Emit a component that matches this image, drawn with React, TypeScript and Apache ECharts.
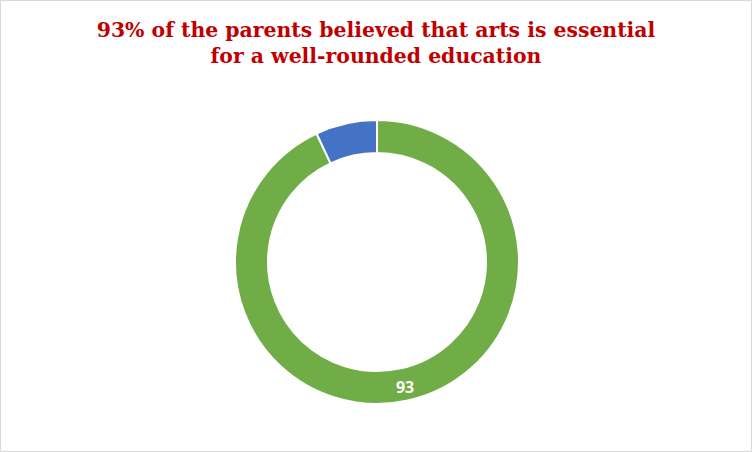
import React, { useEffect, useRef } from "react";
import * as echarts from "echarts";

const categories = ["Essential", "Not essential"];
const values = [93, 7];
const colors = ["#70AD47", "#4472C4"];
const titleText = "93% of the parents believed that arts is essential\nfor a well-rounded education";

const App: React.FC = () => {
  const chartRef = useRef<HTMLDivElement>(null);

  useEffect(() => {
    if (!chartRef.current) return;
    const chart = echarts.init(chartRef.current, null, { renderer: "svg" });

    chart.setOption({
      animation: false,
      backgroundColor: "#ffffff",
      title: {
        text: titleText,
        left: "center",
        top: 11,
        textStyle: {
          fontFamily: "DejaVu Serif",
          fontSize: 20.4,
          fontWeight: "bold",
          color: "#C00000",
          lineHeight: 26,
        },
      },
      series: [
        {
          type: "pie",
          center: [376, 261],
          radius: [109, 142],
          startAngle: 90,
          clockwise: true,
          labelLine: { show: false },
          itemStyle: { borderColor: "#ffffff", borderWidth: 2 },
          data: categories.map((name, i) => ({
            name,
            value: values[i],
            itemStyle: { color: colors[i] },
            label: {
              show: i === 0,
              position: "inside",
              formatter: "{c}",
              color: "#ffffff",
              fontFamily: "Open Sans",
              fontWeight: "bold",
              fontSize: 16,
            },
          })),
        },
      ],
    });

    return () => {
      chart.dispose();
    };
  }, []);

  return (
    <div
      ref={chartRef}
      style={{
        position: "absolute",
        left: 0,
        top: 0,
        width: 752,
        height: 452,
        boxSizing: "border-box",
        border: "1px solid #d9d9d9",
      }}
    />
  );
};

export default App;
